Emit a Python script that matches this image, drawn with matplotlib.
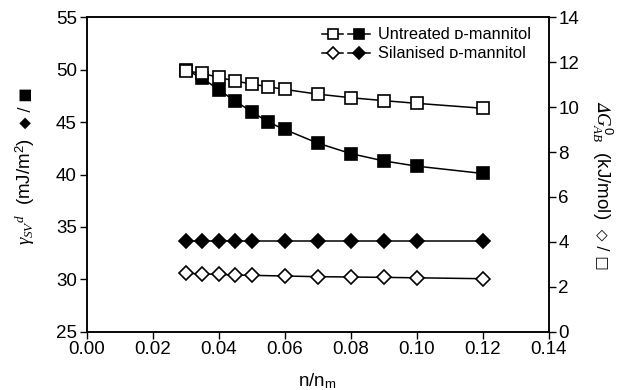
import numpy
import matplotlib
matplotlib.use('Agg')
import matplotlib.pyplot as plt
from matplotlib.lines import Line2D
from matplotlib.legend_handler import HandlerTuple

plt.rcParams['font.family'] = ['Liberation Sans', 'DejaVu Sans']
plt.rcParams['mathtext.fontset'] = 'custom'
plt.rcParams['mathtext.rm'] = 'Liberation Sans'
plt.rcParams['mathtext.it'] = 'Liberation Serif:italic'
plt.rcParams['mathtext.fallback'] = 'stix'

# surface coverage n/n_m
x_sq = [0.03, 0.035, 0.04, 0.045, 0.05, 0.055, 0.06, 0.07, 0.08, 0.09, 0.10, 0.12]
x_di = [0.03, 0.035, 0.04, 0.045, 0.05, 0.06, 0.07, 0.08, 0.09, 0.10, 0.12]

# untreated: gamma_SV^d (left) and dG_AB (right)
untreated_gamma = [50.0, 49.2, 48.1, 47.0, 46.0, 45.0, 44.3, 43.0, 42.0, 41.3, 40.8, 40.1]
untreated_dG = [11.62, 11.50, 11.33, 11.16, 11.03, 10.91, 10.79, 10.58, 10.42, 10.29, 10.17, 9.95]

# silanised: gamma_SV^d (left) and dG_AB (right)
silanised_gamma = [33.7, 33.7, 33.7, 33.7, 33.7, 33.7, 33.7, 33.7, 33.7, 33.7, 33.7]
silanised_dG = [2.60, 2.57, 2.555, 2.52, 2.51, 2.48, 2.45, 2.435, 2.42, 2.40, 2.36]

fig = plt.figure(figsize=(6.25, 3.9), dpi=100)
ax1 = fig.add_axes([0.1387, 0.1495, 0.7389, 0.8061])
ax2 = ax1.twinx()

lw = 1.1
mew = 1.2
ax1.plot(x_sq, untreated_gamma, '-s', color='black', mfc='black', ms=8.5, lw=lw, mew=mew, zorder=2)
ax1.plot(x_di, silanised_gamma, '-D', color='black', mfc='black', ms=7.5, lw=lw, mew=mew, zorder=2)
ax2.plot(x_sq, untreated_dG, '-s', color='black', mfc='white', ms=8.5, lw=lw, mew=mew, zorder=3)
ax2.plot(x_di, silanised_dG, '-D', color='black', mfc='white', ms=7, lw=lw, mew=mew, zorder=3)

ax1.set_xlim(0, 0.14)
ax1.set_ylim(25, 55)
ax2.set_ylim(0, 14)
ax1.set_xticks(numpy.arange(0, 0.141, 0.02))
ax1.set_xticklabels(['%.2f' % v for v in numpy.arange(0, 0.141, 0.02)])
ax1.set_yticks(range(25, 56, 5))
ax2.set_yticks(range(0, 15, 2))

for ax in (ax1, ax2):
    ax.tick_params(direction='out', length=5, width=1, labelsize=13.5, pad=2)
    for s in ax.spines.values():
        s.set_linewidth(1.1)

ax1.set_xlabel('n/n$_\\mathrm{m}$', fontsize=13.5, labelpad=9)

# axis titles: math part as fig text, marker symbols attached next to it
tl = fig.text(0.04, 0.51, '$\\gamma_{SV}{}^{d}$  (mJ/m$^2$)', rotation=90,
              ha='center', va='center', fontsize=13.5)
tr = fig.text(0.963, 0.59, '$\U0001D6E5G^{0}_{AB}$  (kJ/mol)', rotation=270,
              ha='center', va='center', fontsize=13.5)
ax1.annotate('  \u25c6 / \u25a0', xy=(0.5, 1.0), xycoords=tl, rotation=90,
             ha='center', va='bottom', fontsize=11, family=['DejaVu Sans'],
             annotation_clip=False)
ax1.annotate('  \u25c7 / \u25a1', xy=(0.5, 0.0), xycoords=tr, rotation=270,
             ha='center', va='top', fontsize=11, family=['DejaVu Sans'],
             annotation_clip=False)

# legend: open + filled marker pairs
h1o = Line2D([], [], color='black', marker='s', mfc='white', ms=7, lw=lw, mew=mew)
h1f = Line2D([], [], color='black', marker='s', mfc='black', ms=7, lw=lw, mew=mew)
h2o = Line2D([], [], color='black', marker='D', mfc='white', ms=6.5, lw=lw, mew=mew)
h2f = Line2D([], [], color='black', marker='D', mfc='black', ms=6.5, lw=lw, mew=mew)
ax2.legend([(h1o, h1f), (h2o, h2f)],
           ['Untreated \u1d05-mannitol', 'Silanised \u1d05-mannitol'],
           handler_map={tuple: HandlerTuple(ndivide=None, pad=0.3)},
           loc='upper right', bbox_to_anchor=(0.99, 1.01), frameon=False,
           fontsize=11.8, handlelength=2.9, handletextpad=0.5, labelspacing=0.25,
           borderpad=0.3)

fig.savefig('out.png', dpi=100)
